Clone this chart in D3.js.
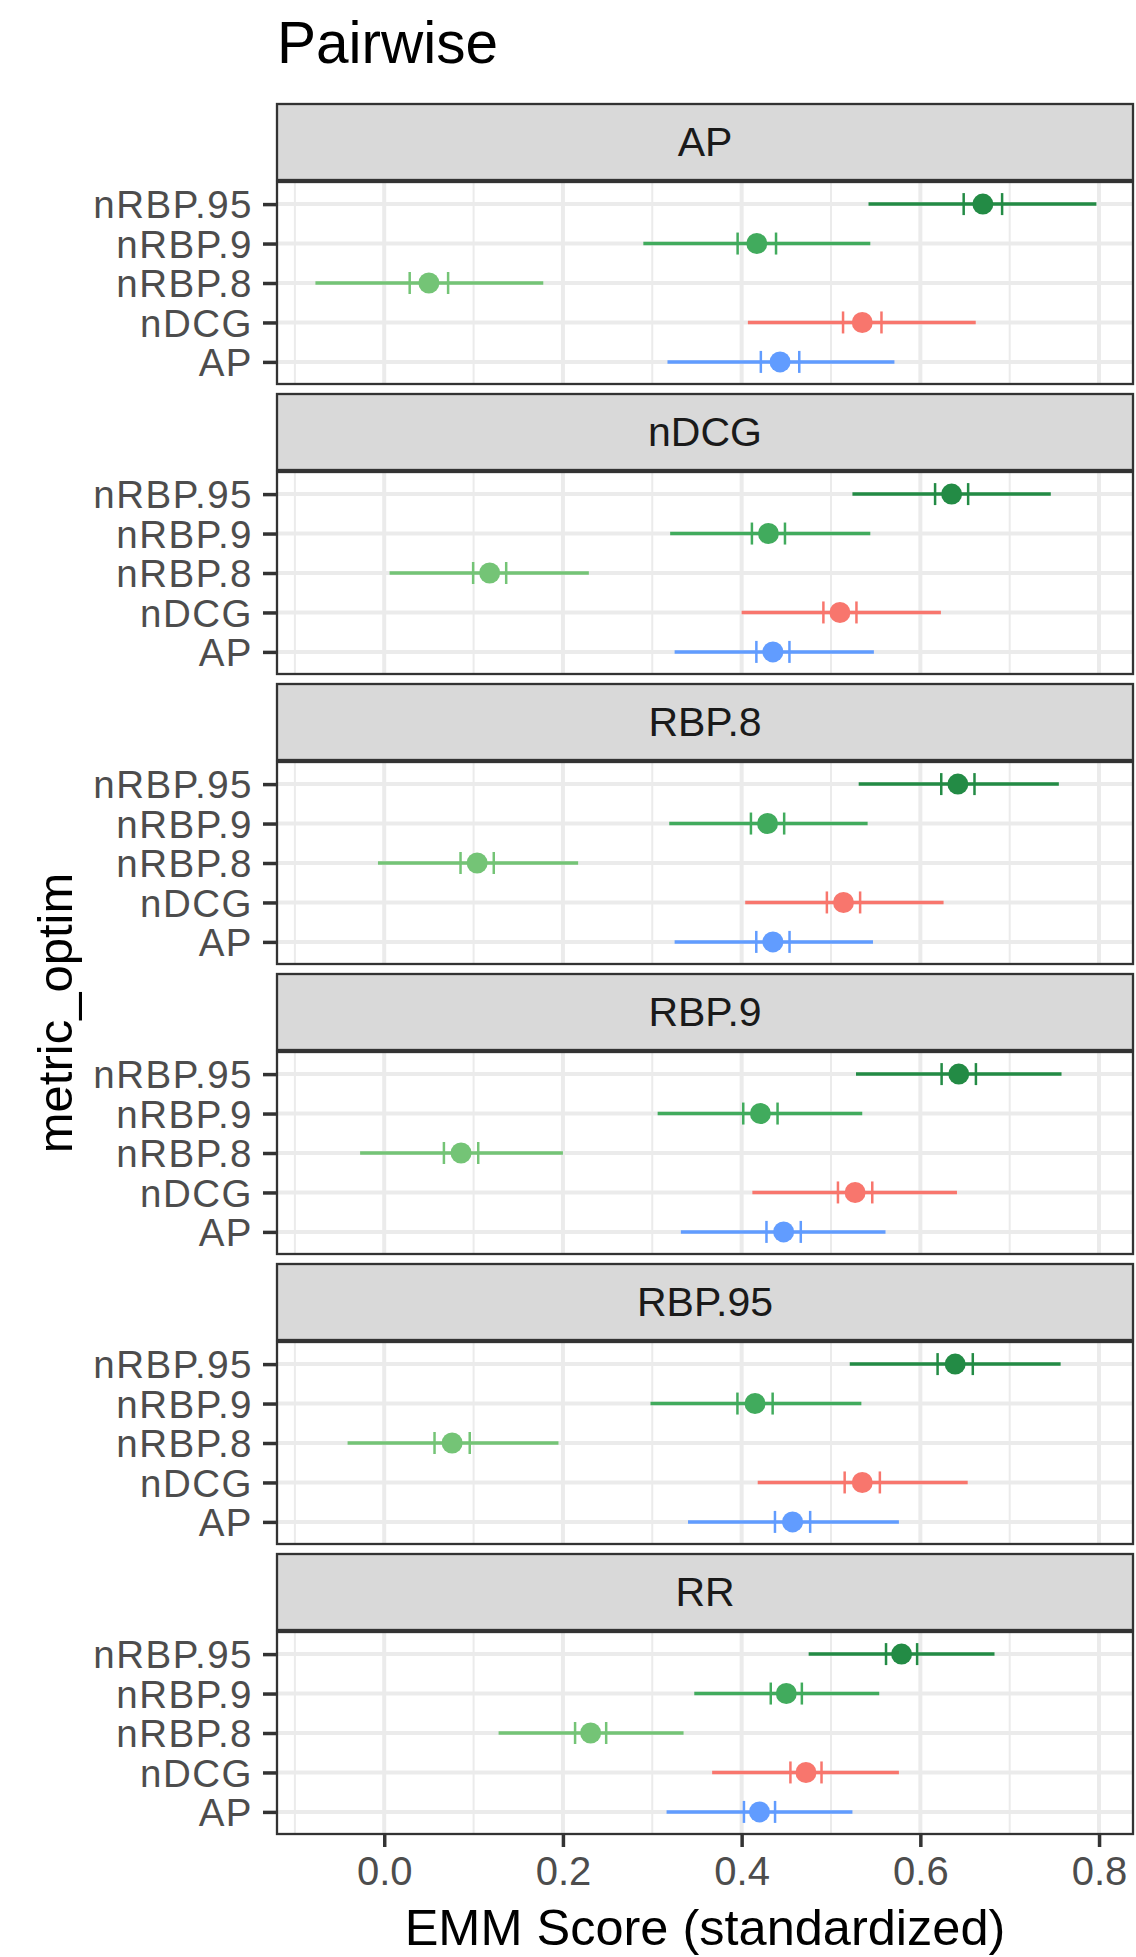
<!DOCTYPE html>
<html><head><meta charset="utf-8">
<script src="https://cdn.jsdelivr.net/npm/d3@7"></script>
<style>
body{margin:0;background:#fff;}
text{font-family:"Liberation Sans",Arial,Helvetica,sans-serif;}
</style>
</head><body>
<svg id="chart" width="1136" height="1957"></svg>
<script>
// ---------------- data ----------------
const facets = ["AP", "nDCG", "RBP.8", "RBP.9", "RBP.95", "RR"];
const metrics = ["nRBP.95", "nRBP.9", "nRBP.8", "nDCG", "AP"];
const metricColors = ["#238B45", "#41AB5D", "#74C476", "#F8766D", "#619CFF"];
const xTicks = [0.0, 0.2, 0.4, 0.6, 0.8];
const xMinorTicks = [-0.1, 0.1, 0.3, 0.5, 0.7];
const xTickLabels = ["0.0", "0.2", "0.4", "0.6", "0.8"];
// rows per facet follow the metrics order
const emmean = [
  [0.670, 0.417, 0.050, 0.535, 0.443],
  [0.635, 0.430, 0.118, 0.510, 0.435],
  [0.642, 0.429, 0.104, 0.514, 0.435],
  [0.643, 0.421, 0.086, 0.527, 0.447],
  [0.639, 0.415, 0.076, 0.535, 0.457],
  [0.579, 0.450, 0.231, 0.472, 0.420]
];
const lowerCL = [
  [0.542, 0.290, -0.077, 0.407, 0.317],
  [0.524, 0.320, 0.006, 0.400, 0.325],
  [0.531, 0.319, -0.007, 0.404, 0.325],
  [0.528, 0.306, -0.027, 0.412, 0.332],
  [0.521, 0.298, -0.041, 0.418, 0.340],
  [0.475, 0.347, 0.128, 0.367, 0.316]
];
const upperCL = [
  [0.797, 0.544, 0.178, 0.662, 0.571],
  [0.746, 0.544, 0.229, 0.623, 0.548],
  [0.755, 0.541, 0.217, 0.626, 0.547],
  [0.758, 0.535, 0.200, 0.641, 0.561],
  [0.757, 0.534, 0.195, 0.653, 0.576],
  [0.683, 0.554, 0.335, 0.576, 0.524]
];
const seHalf = [0.0215, 0.0185, 0.0186, 0.0192, 0.0197, 0.0174];

// ---------------- layout ----------------
const svg = d3.select("#chart");
const panelLeft = 277, panelRight = 1133;
const firstTop = 103, period = 290;
const stripH = 77, panelTopOff = 79, panelBotOff = 281;
const border = "#333333", gridCol = "#EBEBEB";
const FONT = "'Liberation Sans',Arial,Helvetica,sans-serif";

const x = d3.scaleLinear().domain([-0.12, 0.838]).range([panelLeft, panelRight]);

svg.append("text").attr("x", panelLeft).attr("y", 63)
  .attr("font-size", 58.5).attr("fill", "#000").text("Pairwise");

facets.forEach((f, i) => {
  const top = firstTop + i * period;
  const pTop = top + panelTopOff, pBot = top + panelBotOff;
  const y = d3.scalePoint().domain(metrics).range([pTop, pBot]).padding(0.56);
  const g = svg.append("g");

  g.append("rect").attr("x", panelLeft).attr("y", pTop)
    .attr("width", panelRight - panelLeft).attr("height", pBot - pTop).attr("fill", "#fff");

  const clipId = "clip" + i;
  g.append("clipPath").attr("id", clipId).append("rect")
    .attr("x", panelLeft).attr("y", pTop).attr("width", panelRight - panelLeft).attr("height", pBot - pTop);
  const inner = g.append("g").attr("clip-path", `url(#${clipId})`);

  inner.selectAll(".minor").data(xMinorTicks).join("line")
    .attr("x1", d => x(d)).attr("x2", d => x(d)).attr("y1", pTop).attr("y2", pBot)
    .attr("stroke", gridCol).attr("stroke-width", 2);
  inner.selectAll(".majorx").data(xTicks).join("line")
    .attr("x1", d => x(d)).attr("x2", d => x(d)).attr("y1", pTop).attr("y2", pBot)
    .attr("stroke", gridCol).attr("stroke-width", 4);
  inner.selectAll(".majory").data(metrics).join("line")
    .attr("x1", panelLeft).attr("x2", panelRight).attr("y1", d => y(d)).attr("y2", d => y(d))
    .attr("stroke", gridCol).attr("stroke-width", 4);

  const rows = metrics.map((m, j) => ({
    m, col: metricColors[j], em: emmean[i][j], lo: lowerCL[i][j], hi: upperCL[i][j], se: seHalf[i]
  }));

  inner.selectAll(".ci").data(rows).join("line")
    .attr("x1", d => x(d.lo)).attr("x2", d => x(d.hi))
    .attr("y1", d => y(d.m)).attr("y2", d => y(d.m))
    .attr("stroke", d => d.col).attr("stroke-width", 3.5);
  rows.forEach(d => {
    [d.em - d.se, d.em + d.se].forEach(v => {
      inner.append("line").attr("x1", x(v)).attr("x2", x(v))
        .attr("y1", y(d.m) - 11).attr("y2", y(d.m) + 11)
        .attr("stroke", d.col).attr("stroke-width", 2.5);
    });
  });
  inner.selectAll(".pt").data(rows).join("circle")
    .attr("cx", d => x(d.em)).attr("cy", d => y(d.m)).attr("r", 10.5)
    .attr("fill", d => d.col);

  g.append("rect").attr("x", panelLeft).attr("y", pTop)
    .attr("width", panelRight - panelLeft).attr("height", pBot - pTop)
    .attr("fill", "none").attr("stroke", border).attr("stroke-width", 2.3);

  g.append("rect").attr("x", panelLeft).attr("y", top + 1)
    .attr("width", panelRight - panelLeft).attr("height", stripH - 1)
    .attr("fill", "#D9D9D9").attr("stroke", border).attr("stroke-width", 2.3);
  g.append("text").attr("x", (panelLeft + panelRight) / 2).attr("y", top + 39 + 14)
    .attr("text-anchor", "middle").attr("font-size", 41).attr("fill", "#1A1A1A").text(f);

  const ya = g.append("g").attr("transform", `translate(${panelLeft - 1},0)`)
    .call(d3.axisLeft(y).tickSize(13).tickPadding(10));
  ya.select(".domain").remove();
  ya.selectAll(".tick line").attr("stroke", border).attr("stroke-width", 3.5);
  ya.selectAll(".tick text").attr("font-size", 38.5).attr("letter-spacing", "1.5px")
    .attr("fill", "#4D4D4D").attr("font-family", FONT).attr("dy", "0.36em");

  if (i === facets.length - 1) {
    const xa = g.append("g").attr("transform", `translate(0,${pBot + 1})`)
      .call(d3.axisBottom(x).tickValues(xTicks).tickFormat((d, k) => xTickLabels[k]).tickSize(12).tickPadding(8));
    xa.select(".domain").remove();
    xa.selectAll(".tick line").attr("stroke", border).attr("stroke-width", 3.5);
    xa.selectAll(".tick text").attr("font-size", 40).attr("fill", "#4D4D4D")
      .attr("font-family", FONT).attr("dy", "0.74em");
  }
});

svg.append("text").attr("x", (panelLeft + panelRight) / 2).attr("y", 1945)
  .attr("text-anchor", "middle").attr("font-size", 50.5).attr("fill", "#000")
  .text("EMM Score (standardized)");
svg.append("text").attr("transform", "translate(72,1013) rotate(-90)")
  .attr("text-anchor", "middle").attr("font-size", 49).attr("fill", "#000")
  .text("metric_optim");
</script>
</body></html>
